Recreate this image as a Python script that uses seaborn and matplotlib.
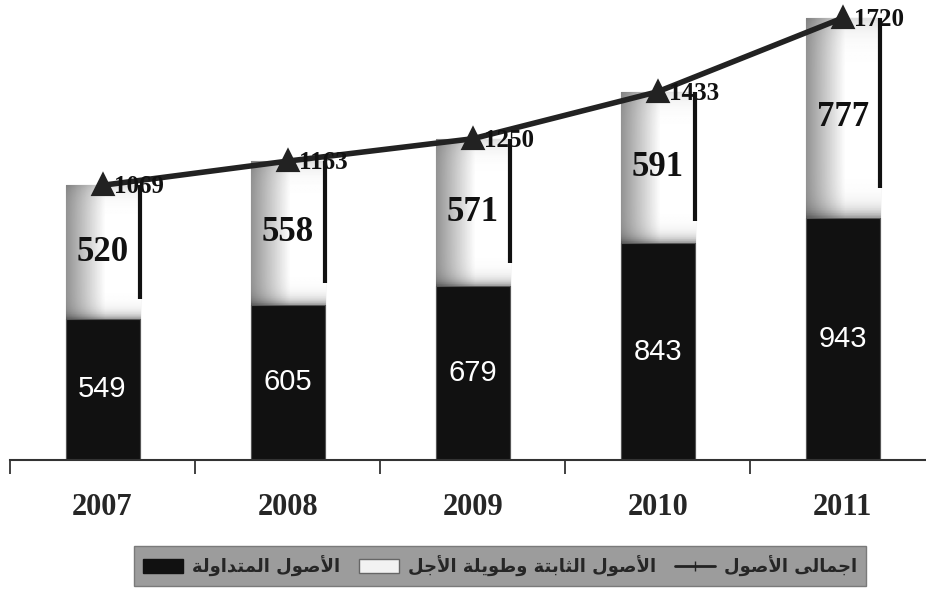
import numpy as np
import seaborn as sns
import matplotlib.pyplot as plt
from matplotlib.patches import Patch
from matplotlib.lines import Line2D

# Data
years = ['2007', '2008', '2009', '2010', '2011']
current_assets = [549, 605, 679, 843, 943]          # black part
fixed_assets = [520, 558, 571, 591, 777]            # grey/white part
total_assets = [1069, 1163, 1250, 1433, 1720]       # line

label_current = 'الأصول المتداولة'
label_fixed = 'الأصول الثابتة وطويلة الأجل'
label_total = 'اجمالى الأصول'

# matplotlib does not join arabic letters, so pick presentation forms by hand
AR = {  # isolated, final, initial, medial
    'ا': (0xFE8D, 0xFE8E, None, None),
    'أ': (0xFE83, 0xFE84, None, None),
    'إ': (0xFE87, 0xFE88, None, None),
    'ب': (0xFE8F, 0xFE90, 0xFE91, 0xFE92),
    'ة': (0xFE93, 0xFE94, None, None),
    'ت': (0xFE95, 0xFE96, 0xFE97, 0xFE98),
    'ث': (0xFE99, 0xFE9A, 0xFE9B, 0xFE9C),
    'ج': (0xFE9D, 0xFE9E, 0xFE9F, 0xFEA0),
    'د': (0xFEA9, 0xFEAA, None, None),
    'ص': (0xFEB9, 0xFEBA, 0xFEBB, 0xFEBC),
    'ط': (0xFEC1, 0xFEC2, 0xFEC3, 0xFEC4),
    'ل': (0xFEDD, 0xFEDE, 0xFEDF, 0xFEE0),
    'م': (0xFEE1, 0xFEE2, 0xFEE3, 0xFEE4),
    'و': (0xFEED, 0xFEEE, None, None),
    'ى': (0xFEEF, 0xFEF0, None, None),
    'ي': (0xFEF1, 0xFEF2, 0xFEF3, 0xFEF4),
}
LAM_ALEF = {'ا': (0xFEFB, 0xFEFC), 'أ': (0xFEF7, 0xFEF8), 'إ': (0xFEF9, 0xFEFA)}


def shape_ar(text):
    out = []
    prev_joins = False
    i = 0
    while i < len(text):
        c = text[i]
        if c not in AR:
            out.append(c)
            prev_joins = False
            i += 1
            continue
        if c == 'ل' and i + 1 < len(text) and text[i + 1] in LAM_ALEF:
            out.append(chr(LAM_ALEF[text[i + 1]][1 if prev_joins else 0]))
            prev_joins = False
            i += 2
            continue
        iso, fin, ini, med = AR[c]
        nxt = text[i + 1] if i + 1 < len(text) else ''
        next_ok = ini is not None and nxt in AR
        if prev_joins and next_ok:
            g = med
        elif prev_joins:
            g = fin
        elif next_ok:
            g = ini
        else:
            g = iso
        out.append(chr(g))
        prev_joins = next_ok
        i += 1
    return ''.join(reversed(out))


sns.set_style('white')
serif = ['Liberation Serif', 'DejaVu Serif']
narrow = ['Liberation Sans Narrow', 'Liberation Sans', 'DejaVu Sans']
plt.rcParams['font.family'] = ['DejaVu Sans']

fig = plt.figure(figsize=(9.26, 5.89), dpi=100)
ax = fig.add_axes([10 / 926, 129 / 589, 916 / 926, 460 / 589])

# full height bars first (they become the light top part)
sns.barplot(x=years, y=total_assets, color='#e6e6e6', width=0.4,
            edgecolor='#777777', linewidth=0.8, ax=ax, zorder=1)
top_bars = list(ax.patches)

# grey to white gradient on the top part
grad_x = np.linspace(0, 1, 60)
row = np.clip(0.58 + 0.8 * grad_x, 0, 1)
for bar, cur, tot in zip(top_bars, current_assets, total_assets):
    t = np.linspace(0, 1, 80)[:, None]           # 0 at bottom, 1 at top
    shade = 1 - 0.35 * np.exp(-t / 0.04) - 0.12 * np.exp(-(1 - t) / 0.06)
    img = row[None, :] * shade
    x0 = bar.get_x()
    im = ax.imshow(img, extent=[x0, x0 + bar.get_width(), cur, tot], origin='lower',
                   cmap='gray', vmin=0, vmax=1, aspect='auto', zorder=1.2)
    im.set_clip_path(bar)
    # dark edge on the right side of the top part
    ax.vlines(x0 + bar.get_width(), cur + 0.15 * (tot - cur), tot,
              color='#111111', lw=3, zorder=1.3)

sns.barplot(x=years, y=current_assets, color='#111111', width=0.4,
            edgecolor='#555555', linewidth=0.8, ax=ax, zorder=2)

sns.pointplot(x=years, y=total_assets, color='#222222', marker='^',
              markersize=13, linewidth=4, ax=ax, zorder=3)

for i in range(len(years)):
    ax.text(i, current_assets[i] / 2, str(current_assets[i]), color='white',
            ha='center', va='center', fontsize=21, family=narrow, zorder=4)
    ax.text(i, current_assets[i] + fixed_assets[i] / 2, str(fixed_assets[i]),
            color='#111111', ha='center', va='center', fontsize=25,
            fontweight='bold', family=serif, zorder=4)
    ax.annotate(str(total_assets[i]), (i, total_assets[i]), xytext=(8, -1),
                textcoords='offset points', ha='left', va='center',
                fontsize=18, fontweight='bold', family=serif, color='#111111',
                zorder=4)

ax.set_xlim(-0.5, 4.45)
ax.set_ylim(0, 1790)
ax.set_xlabel('')
ax.set_ylabel('')
ax.set_yticks([])
for side in ['top', 'right', 'left']:
    ax.spines[side].set_visible(False)
ax.spines['bottom'].set_color('#333333')
ax.spines['bottom'].set_linewidth(1.5)

# ticks between the years, year labels in the middle
ax.set_xticks([-0.5, 0.5, 1.5, 2.5, 3.5])
ax.set_xticklabels([])
ax.tick_params(axis='x', which='major', length=10, width=1.3, color='#333333',
               direction='out', bottom=True)
ax.set_xticks(range(len(years)), minor=True)
ax.set_xticklabels(years, minor=True, fontsize=22, fontweight='bold', family=serif)
ax.tick_params(axis='x', which='minor', length=0, pad=24)

handles = [
    Patch(facecolor='#111111', edgecolor='#111111', label=shape_ar(label_current)),
    Patch(facecolor='#f2f2f2', edgecolor='#666666', label=shape_ar(label_fixed)),
    Line2D([0], [0], color='#222222', lw=2, marker='|', markersize=7,
           label=shape_ar(label_total)),
]
leg = fig.legend(handles=handles, loc='center', ncol=3, mode='expand',
                 bbox_to_anchor=(125 / 926, 2 / 589, 750 / 926, 42 / 589),
                 frameon=True, fancybox=False, framealpha=1,
                 facecolor='#9c9c9c', edgecolor='#7a7a7a', borderpad=0.5,
                 handlelength=2.2, handleheight=0.8, handletextpad=0.5,
                 prop={'family': 'DejaVu Sans', 'weight': 'bold', 'size': 13})

fig.savefig('out.png', dpi=100)
